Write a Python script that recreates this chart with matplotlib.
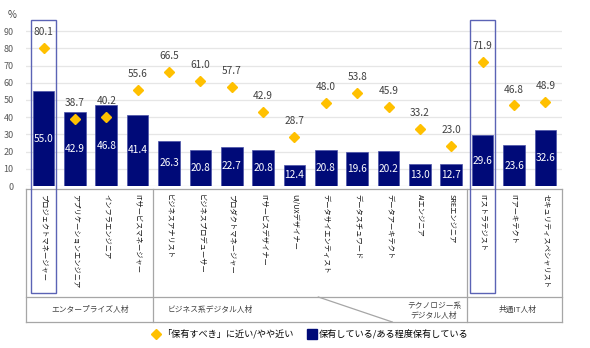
import matplotlib.pyplot as plt
from matplotlib.lines import Line2D
from matplotlib.patches import Rectangle
from matplotlib.transforms import blended_transform_factory

plt.rcParams['font.family'] = ['Noto Sans CJK JP', 'DejaVu Sans']

categories = ['プロジェクトマネージャー', 'アプリケーションエンジニア', 'インフラエンジニア',
              'ITサービスマネージャー', 'ビジネスアナリスト', 'ビジネスプロデューサー',
              'プロダクトマネージャー', 'ITサービスデザイナー', 'UI/UXデザイナー',
              'データサイエンティスト', 'データスチュワード', 'データアーキテクト',
              'AIエンジニア', 'SREエンジニア', 'ITストラテジスト', 'ITアーキテクト',
              'セキュリティスペシャリスト']
have = [55.0, 42.9, 46.8, 41.4, 26.3, 20.8, 22.7, 20.8, 12.4,
        20.8, 19.6, 20.2, 13.0, 12.7, 29.6, 23.6, 32.6]
should = [80.1, 38.7, 40.2, 55.6, 66.5, 61.0, 57.7, 42.9, 28.7,
          48.0, 53.8, 45.9, 33.2, 23.0, 71.9, 46.8, 48.9]
highlight = [0, 14]
group_bounds = [3.5, 13.5]

NAVY = '#000a78'
GOLD = '#ffc000'
BOX = '#5b63b5'
LINE = '#a6a6a6'

W, H = 590, 348
fig = plt.figure(figsize=(W / 100, H / 100), dpi=100)
ax = fig.add_axes([26 / W, 162 / H, 536 / W, 166 / H])

x = list(range(len(categories)))
ax.bar(x, have, width=0.69, color=NAVY, edgecolor='#4a52a8', linewidth=0.5, zorder=2)
ax.plot(x, should, linestyle='none', marker='D', markersize=5.2, color=GOLD, zorder=3)

for i, v in enumerate(have):
    ax.text(i, v / 2, f'{v:.1f}', color='white', ha='center', va='center', fontsize=7.3, zorder=4)
for i, v in enumerate(should):
    ax.annotate(f'{v:.1f}', (i, v), xytext=(0, 11.5), textcoords='offset points',
                ha='center', va='center', fontsize=7.3, color='#404040', zorder=4)

ax.set_xlim(-0.56, 16.53)
ax.set_ylim(0, 96.5)
ax.set_yticks(range(0, 100, 10))
ax.set_xticks([])
ax.grid(axis='y', color='#e6e6e6', linewidth=0.9, zorder=0)
for s in ax.spines.values():
    s.set_visible(False)
ax.tick_params(axis='y', length=0, labelsize=6.5, labelcolor='#595959', pad=9)
fig.text(8 / W, 1 - 15 / H, '%', fontsize=7, color='#404040', va='center')

# table below the axes: x in data, y in figure pixels from top
tr = blended_transform_factory(ax.transData, fig.transFigure)
def fy(py):
    return 1 - py / H

x0, x1 = ax.get_xlim()
for py in [189, 297, 322]:
    fig.add_artist(Line2D([x0, x1], [fy(py), fy(py)], color=LINE, lw=0.9, transform=tr))
for bx in [x0, x1] + group_bounds:
    fig.add_artist(Line2D([bx, bx], [fy(189), fy(322)], color=LINE, lw=0.9, transform=tr))
fig.add_artist(Line2D([8.76, 11.12], [fy(297), fy(322)], color=LINE, lw=0.9, transform=tr))

for i, name in enumerate(categories):
    fig.text(i, fy(194), name, transform=tr, rotation=-90, ha='center', va='top',
             fontsize=5.2, color='#111111')

fig.text(1.5, fy(310), 'エンタープライズ人材', transform=tr, ha='center', va='center',
         fontsize=5.6, color='#404040')
fig.text(5.3, fy(310), 'ビジネス系デジタル人材', transform=tr, ha='center', va='center',
         fontsize=5.6, color='#404040')
fig.text(12.45, fy(311), 'テクノロジー系\nデジタル人材', transform=tr, ha='center', va='center',
         fontsize=5.6, color='#404040', linespacing=1.3)
fig.text(15.1, fy(310), '共通IT人材', transform=tr, ha='center', va='center',
         fontsize=5.6, color='#404040')

# highlight boxes
for i in highlight:
    fig.add_artist(Rectangle((i - 0.39, fy(293)), 0.78, fy(20) - fy(293), transform=tr,
                             fill=False, edgecolor=BOX, linewidth=1.0, zorder=5))

handles = [Line2D([], [], linestyle='none', marker='D', markersize=5.5, color=GOLD),
           Line2D([], [], linestyle='none', marker='s', markersize=6.5, color=NAVY)]
labels = ['「保有すべき」に近い/やや近い', '保有している/ある程度保有している']
fig.legend(handles, labels, ncol=2, loc='center', bbox_to_anchor=(310 / W, fy(334)),
           frameon=False, fontsize=6.6, handlelength=0.8, handletextpad=0.3,
           columnspacing=1.6, borderpad=0)

fig.savefig('out.png', dpi=100)
